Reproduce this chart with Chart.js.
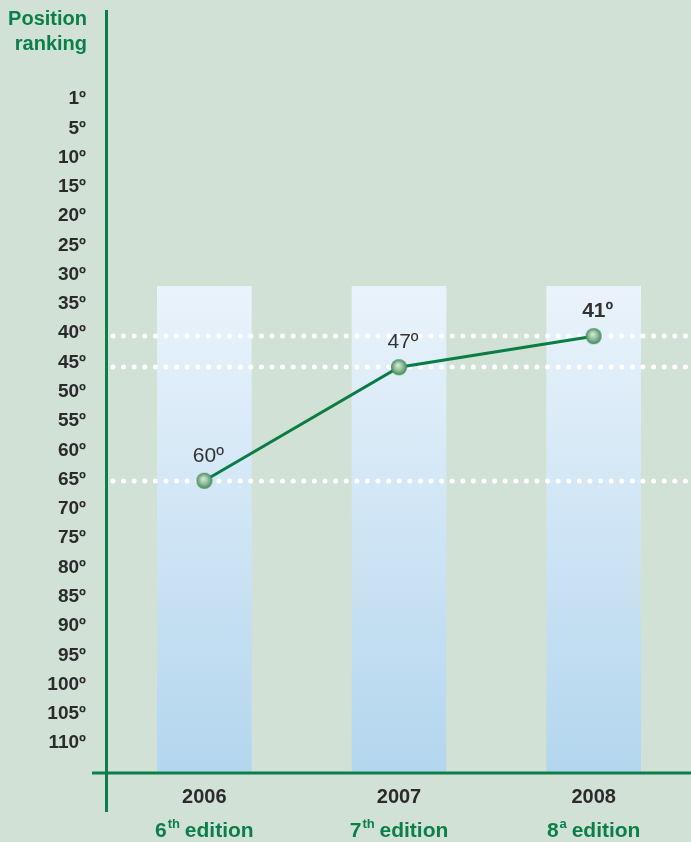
<!DOCTYPE html>
<html>
<head>
<meta charset="utf-8">
<script src="https://cdn.jsdelivr.net/npm/chart.js@4.4.1/dist/chart.umd.min.js"></script>
<style>
  html, body { margin: 0; padding: 0; background: #d1e1d6; }
  #wrap { width: 691px; height: 842px; }
</style>
</head>
<body>
<div id="wrap"><canvas id="rankChart"></canvas></div>
<script>
// data
const years = ["2006", "2007", "2008"];
const editionNum = ["6", "7", "8"];
const editionSup = ["th", "th", "a"];
const rankText = ["60º", "47º", "41º"];
const rankPos = [65.2, 45.8, 40.5];   // where each point sits on the ranking axis
const barTop = [32, 32, 32];
const tickValues = [0, 5, 10, 15, 20, 25, 30, 35, 40, 45, 50, 55, 60, 65, 70, 75, 80, 85, 90, 95, 100, 105, 110];
const tickLabels = ["1º", "5º", "10º", "15º", "20º", "25º", "30º", "35º", "40º", "45º", "50º", "55º",
  "60º", "65º", "70º", "75º", "80º", "85º", "90º", "95º", "100º", "105º", "110º"];
const yMin = -15.2;
const yMax = 115.1;

const FONT = '"Liberation Sans", Arial, sans-serif';
const GREEN = '#0b7f4a';
const DARK = '#2b2b2b';

function makeSphere(r) {
  const c = document.createElement('canvas');
  c.width = c.height = 2 * r + 2;
  const g = c.getContext('2d');
  const m = r + 1;
  const grad = g.createRadialGradient(m - 1, m - 2, 1, m, m, r);
  grad.addColorStop(0, '#cfe4d1');
  grad.addColorStop(0.55, '#86b894');
  grad.addColorStop(1, '#3f8658');
  g.fillStyle = grad;
  g.beginPath();
  g.arc(m, m, r, 0, Math.PI * 2);
  g.fill();
  return c;
}
const sphere = makeSphere(8);

function barGradient(context) {
  const chart = context.chart;
  const area = chart.chartArea;
  if (!area) return '#cfe3f3';
  const y = chart.scales.y;
  const g = chart.ctx.createLinearGradient(0, y.getPixelForValue(barTop[0]), 0, area.bottom);
  g.addColorStop(0, '#eaf3fb');
  g.addColorStop(1, '#b3d6ee');
  return g;
}

const decor = {
  id: 'decor',
  beforeDraw(chart) {
    const ctx = chart.ctx;
    ctx.save();
    ctx.fillStyle = '#d1e1d6';
    ctx.fillRect(0, 0, chart.width, chart.height);
    ctx.restore();
  },
  afterDatasetDraw(chart, args) {
    if (args.index !== 0) return; // guides go over the bars, under the line
    const y = chart.scales.y, area = chart.chartArea, ctx = chart.ctx;
    ctx.save();
    ctx.strokeStyle = '#ffffff';
    ctx.lineWidth = 5;
    ctx.lineCap = 'round';
    ctx.setLineDash([0, 10.6]);
    rankPos.forEach(v => {
      const py = Math.round(y.getPixelForValue(v));
      ctx.beginPath();
      ctx.moveTo(area.left + 6, py);
      ctx.lineTo(chart.width, py);
      ctx.stroke();
    });
    ctx.restore();
  },
  afterDraw(chart) {
    const ctx = chart.ctx, area = chart.chartArea;
    const x = chart.scales.x;
    ctx.save();

    // axis lines
    ctx.strokeStyle = GREEN;
    ctx.lineWidth = 3;
    ctx.beginPath();
    ctx.moveTo(106.5, 10);
    ctx.lineTo(106.5, 812);
    ctx.moveTo(92, area.bottom);
    ctx.lineTo(chart.width, area.bottom);
    ctx.stroke();

    // axis title
    ctx.fillStyle = GREEN;
    ctx.font = 'bold 20px ' + FONT;
    ctx.textAlign = 'right';
    ctx.textBaseline = 'alphabetic';
    ctx.fillText('Position', 87, 25);
    ctx.fillText('ranking', 87, 50);

    // point labels
    const meta = chart.getDatasetMeta(1);
    ctx.fillStyle = '#333333';
    ctx.textAlign = 'center';
    meta.data.forEach((pt, i) => {
      const last = i === rankText.length - 1;
      ctx.font = (last ? 'bold 21px ' : '21px ') + FONT;
      ctx.fillText(rankText[i], pt.x + 4, pt.y - 19);
    });

    // edition labels with superscripts
    ctx.fillStyle = GREEN;
    ctx.textAlign = 'left';
    years.forEach((yr, i) => {
      const cx = x.getPixelForValue(i);
      ctx.font = 'bold 21px ' + FONT;
      const w1 = ctx.measureText(editionNum[i]).width;
      const w3 = ctx.measureText(' edition').width;
      ctx.font = 'bold 13px ' + FONT;
      const w2 = ctx.measureText(editionSup[i]).width;
      let sx = cx - (w1 + w2 + w3) / 2;
      ctx.font = 'bold 21px ' + FONT;
      ctx.fillText(editionNum[i], sx, 837);
      ctx.font = 'bold 13px ' + FONT;
      ctx.fillText(editionSup[i], sx + w1 + 1, 828);
      ctx.font = 'bold 21px ' + FONT;
      ctx.fillText(' edition', sx + w1 + w2, 837);
    });
    ctx.restore();
  }
};

new Chart(document.getElementById('rankChart'), {
  data: {
    labels: years,
    datasets: [
      {
        type: 'bar',
        data: barTop,
        base: yMax,
        order: 1,
        backgroundColor: barGradient,
        barThickness: 94
      },
      {
        type: 'line',
        data: rankPos,
        order: 0,
        borderColor: '#0a7d46',
        borderWidth: 3,
        pointStyle: sphere,
        pointRadius: 8,
        tension: 0
      }
    ]
  },
  options: {
    responsive: true,
    maintainAspectRatio: false,
    animation: false,
    layout: { autoPadding: false, padding: { top: 10, left: 0, right: 0, bottom: 0 } },
    plugins: {
      legend: { display: false },
      tooltip: { enabled: false }
    },
    scales: {
      x: {
        type: 'category',
        offset: true,
        grid: { display: false },
        border: { display: false },
        ticks: {
          color: DARK,
          font: { family: FONT, size: 20, weight: 'bold' },
          padding: 4
        },
        afterFit(scale) {
          scale.height = 69;
          scale.paddingLeft = 0;
          scale.paddingRight = 0;
        }
      },
      y: {
        type: 'linear',
        reverse: true,
        min: yMin,
        max: yMax,
        grid: { display: false },
        border: { display: false },
        afterBuildTicks(scale) {
          scale.ticks = tickValues.map(v => ({ value: v }));
        },
        ticks: {
          color: DARK,
          font: { family: FONT, size: 19, weight: 'bold' },
          padding: 13,
          callback: (v) => tickLabels[tickValues.indexOf(v)]
        },
        afterFit(scale) {
          scale.width = 107;
          scale.paddingTop = 0;
          scale.paddingBottom = 0;
        }
      }
    }
  },
  plugins: [decor]
});
</script>
</body>
</html>
